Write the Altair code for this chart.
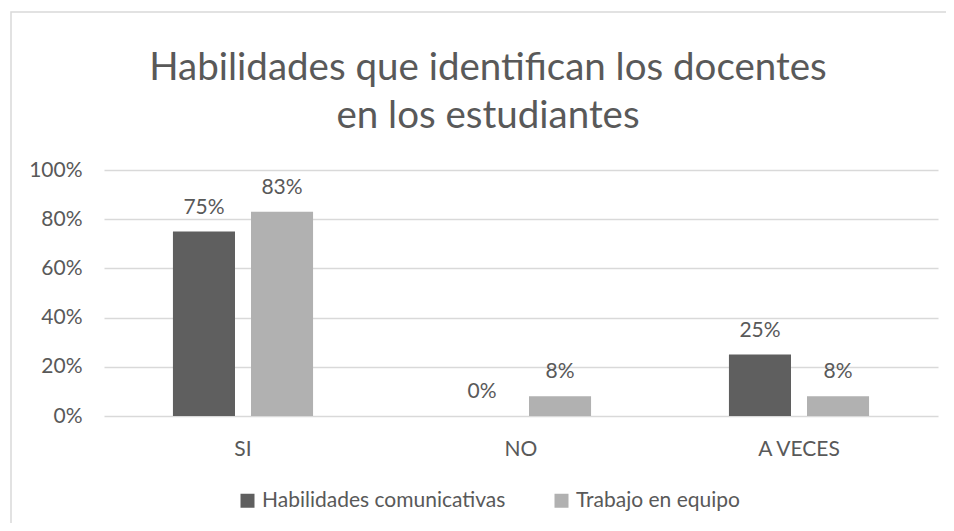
import altair as alt
import pandas as pd

categories = ["SI", "NO", "A VECES"]
series = ["Habilidades comunicativas", "Trabajo en equipo"]
hab_com = [0.75, 0.00, 0.25]
trabajo = [0.83, 0.08, 0.08]
colors = ["#5f5f5f", "#b1b1b1"]
y_ticks = [0, 0.2, 0.4, 0.6, 0.8, 1.0]
title_lines = ["Habilidades que identifican los docentes", "en los estudiantes"]

rows = []
for i, c in enumerate(categories):
    rows.append({"cat": c, "serie": series[0], "val": hab_com[i]})
    rows.append({"cat": c, "serie": series[1], "val": trabajo[i]})
df = pd.DataFrame(rows)

FONT = "Lato"
TXT = "#595959"

x_enc = alt.X("cat:N", sort=categories, title=None,
              scale=alt.Scale(paddingInner=0.496, paddingOuter=0.248),
              axis=alt.Axis(labelAngle=0, tickSize=0, domain=False, labelPadding=22,
                            labelFont=FONT, labelFontSize=21, labelColor=TXT))
xo_enc = alt.XOffset("serie:N", sort=series,
                     scale=alt.Scale(paddingInner=0.205, paddingOuter=0))
y_enc = alt.Y("val:Q", title=None,
              scale=alt.Scale(domain=[0, 1], nice=False),
              axis=alt.Axis(values=y_ticks, format=".0%", domain=False, tickSize=0,
                            labelPadding=22, labelFont=FONT, labelFontSize=21,
                            labelColor=TXT, gridColor="#d9d9d9", gridWidth=1.5))
color_enc = alt.Color("serie:N", sort=series,
                      scale=alt.Scale(domain=series, range=colors),
                      legend=alt.Legend(title=None, orient="none", direction="horizontal",
                                        legendX=133, legendY=320,
                                        symbolType="square", symbolSize=196,
                                        symbolStrokeWidth=0, labelOffset=4,
                                        columnPadding=45,
                                        labelFont=FONT, labelFontSize=21,
                                        labelColor=TXT, labelLimit=400))

border = alt.Chart(pd.DataFrame({"a": [0]})).mark_rect(
    fill="white", fillOpacity=0, stroke="#d9d9d9", strokeWidth=1.5
).encode(x=alt.value(-93), x2=alt.value(900), y=alt.value(-158), y2=alt.value(420))

bars = alt.Chart(df).mark_bar().encode(x=x_enc, xOffset=xo_enc, y=y_enc, color=color_enc)

labels = alt.Chart(df).mark_text(
    baseline="alphabetic", dy=-18, font=FONT, fontSize=21, color=TXT
).encode(x=alt.X("cat:N", sort=categories), xOffset=alt.XOffset("serie:N", sort=series),
         y="val:Q", text=alt.Text("val:Q", format=".0%"))

chart = alt.layer(border, bars, labels).properties(
    width=834, height=246,
    autosize=alt.AutoSizeParams(type="none"),
    padding={"left": 96, "top": 162, "right": 8, "bottom": 107},
    title=alt.TitleParams(text=title_lines, font=FONT, fontSize=38.5, fontWeight="normal",
                          color=TXT, anchor="middle", dx=-33, offset=-125, lineHeight=48),
).configure_view(stroke=None)

chart.save("out.html", embed_options={"renderer": "svg", "actions": False})
